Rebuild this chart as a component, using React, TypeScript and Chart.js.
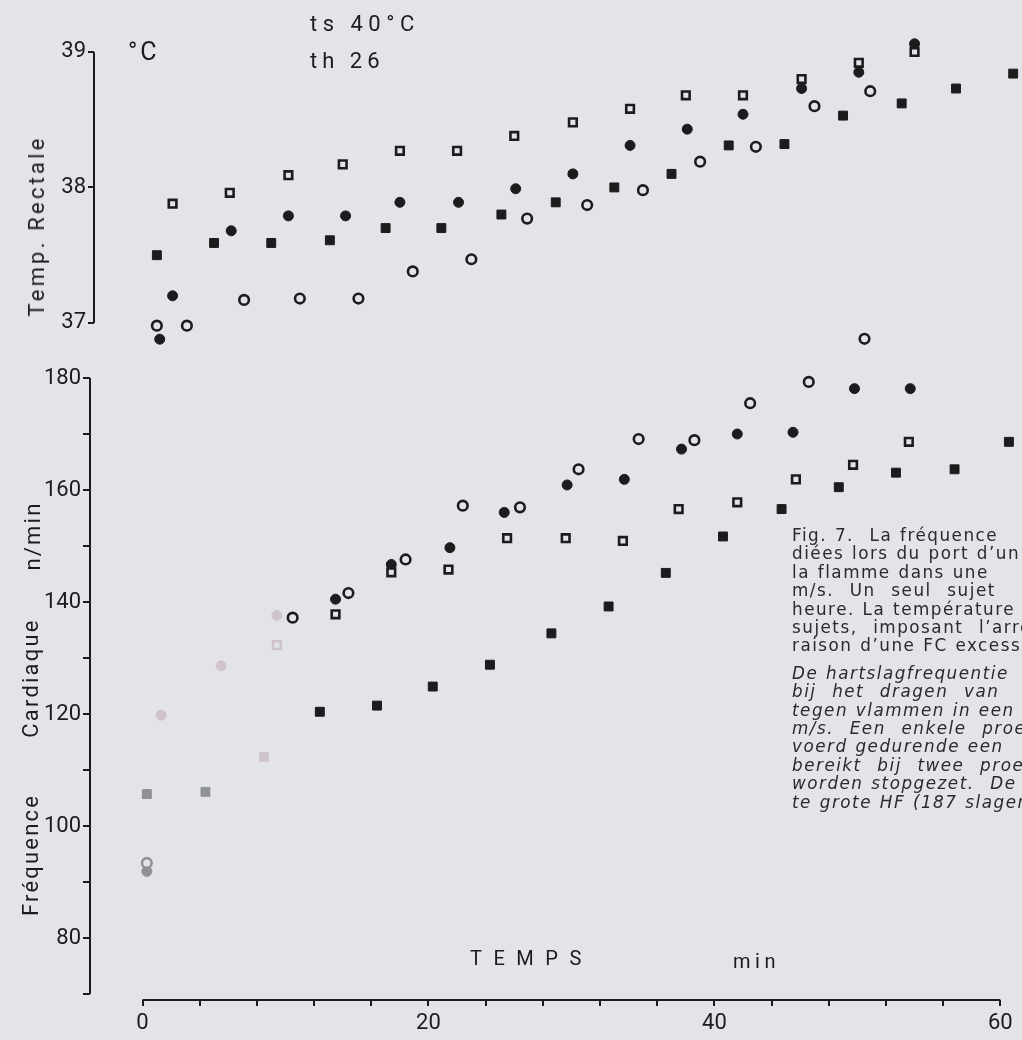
import React, { useEffect, useRef } from 'react';
import { Chart, registerables } from 'chart.js';

Chart.register(...registerables);

// ---------------- data (time in minutes) ----------------
// Temp. Rectale (°C)
const tempTimeOpenSquare = [2.1, 6.1, 10.2, 14.0, 18.0, 22.0, 26.0, 30.1, 34.1, 38.0, 42.0, 46.1, 50.1, 54.0];
const tempOpenSquare = [37.88, 37.96, 38.09, 38.17, 38.27, 38.27, 38.38, 38.48, 38.58, 38.68, 38.68, 38.8, 38.92, 39.0];
const tempTimeFilledSquare = [1.0, 5.0, 9.0, 13.1, 17.0, 20.9, 25.1, 28.9, 33.0, 37.0, 41.0, 44.9, 49.0, 53.1, 56.9, 60.9];
const tempFilledSquare = [37.5, 37.59, 37.59, 37.61, 37.7, 37.7, 37.8, 37.89, 38.0, 38.1, 38.31, 38.32, 38.53, 38.62, 38.73, 38.84];
const tempTimeOpenCircle = [1.0, 3.1, 7.1, 11.0, 15.1, 18.9, 23.0, 26.9, 31.1, 35.0, 39.0, 42.9, 47.0, 50.9];
const tempOpenCircle = [36.98, 36.98, 37.17, 37.18, 37.18, 37.38, 37.47, 37.77, 37.87, 37.98, 38.19, 38.3, 38.6, 38.71];
const tempTimeFilledCircle = [1.2, 2.1, 6.2, 10.2, 14.2, 18.0, 22.1, 26.1, 30.1, 34.1, 38.1, 42.0, 46.1, 50.1, 54.0];
const tempFilledCircle = [36.88, 37.2, 37.68, 37.79, 37.79, 37.89, 37.89, 37.99, 38.1, 38.31, 38.43, 38.54, 38.73, 38.85, 39.06];

// Fréquence Cardiaque (n/min)
const hrTimeOpenSquare = [9.4, 13.5, 17.4, 21.4, 25.5, 29.6, 33.6, 37.5, 41.6, 45.7, 49.7, 53.6];
const hrOpenSquare = [132.3, 137.8, 145.3, 145.8, 151.4, 151.4, 150.9, 156.6, 157.8, 161.9, 164.5, 168.6];
const hrTimeFilledSquare = [0.3, 4.4, 8.5, 12.4, 16.4, 20.3, 24.3, 28.6, 32.6, 36.6, 40.6, 44.7, 48.7, 52.7, 56.8, 60.6];
const hrFilledSquare = [105.7, 106.1, 112.3, 120.4, 121.5, 124.9, 128.8, 134.4, 139.2, 145.2, 151.7, 156.6, 160.5, 163.1, 163.7, 168.6];
const hrTimeOpenCircle = [0.3, 10.5, 14.4, 18.4, 22.4, 26.4, 30.5, 34.7, 38.6, 42.5, 46.6, 50.5];
const hrOpenCircle = [93.4, 137.2, 141.6, 147.6, 157.2, 156.9, 163.7, 169.1, 168.9, 175.5, 179.3, 187];
const hrTimeFilledCircle = [0.3, 1.3, 5.5, 9.4, 13.5, 17.4, 21.5, 25.3, 29.7, 33.7, 37.7, 41.6, 45.5, 49.8, 53.7];
const hrFilledCircle = [91.9, 119.8, 128.6, 137.6, 140.5, 146.7, 149.7, 156.0, 160.9, 161.9, 167.3, 170.0, 170.3, 178.1, 178.1];

// ticks
const timeTicks = [0, 4, 8, 12, 16, 20, 24, 28, 32, 36, 40, 44, 48, 52, 56, 60];
const timeLabels = [0, 20, 40, 60];
const tempTicks = [37, 38, 39];
const hrTicks = [70, 80, 90, 100, 110, 120, 130, 140, 150, 160, 170, 180];
const hrLabels = [80, 100, 120, 140, 160, 180];

const frCaption = [
  'Fig. 7.  La fréquence',
  'diées lors du port d’un',
  'la flamme dans une',
  'm/s.  Un  seul  sujet',
  'heure. La température',
  'sujets,  imposant  l’arrêt',
  'raison d’une FC excessive',
];
const nlCaption = [
  'De hartslagfrequentie',
  'bij  het  dragen  van',
  'tegen vlammen in een',
  'm/s.  Een  enkele  proef',
  'voerd gedurende een',
  'bereikt  bij  twee  proef',
  'worden stopgezet.  De',
  'te grote HF (187 slagen',
];

// ---------------- layout / style ----------------
const PAPER = '#e2e4e8';
const INK = '#1c1c1e';
const FADE1 = '#8f9196';
const FADE2 = '#d0c4ca';
const W = 1022;
const X0 = 143; // page px of t = 0
const SX = 14.42; // px per minute
const TICK_FONT = { family: 'Roboto, "DejaVu Sans", sans-serif', size: 22 };

const pts = (t: number[], v: number[]) => t.map((x, i) => ({ x, y: v[i] }));

// early heart-rate marks are faint in the print
const fadeColor = (c: any) => {
  const x = c.raw ? c.raw.x : 99;
  if (x < 1 || (x >= 4 && x < 5)) return FADE1;
  if (x < 10) return FADE2;
  return INK;
};

function marker(label: string, data: any[], kind: string, faded: boolean) {
  const open = kind === 'openSquare' || kind === 'openCircle';
  const square = kind === 'openSquare' || kind === 'filledSquare';
  const col = faded ? fadeColor : INK;
  return {
    label,
    data,
    showLine: false,
    clip: false,
    pointStyle: square ? 'rect' : 'circle',
    pointRadius: square ? (open ? 5.4 : 6.3) : open ? 4.8 : 5,
    pointBorderWidth: open ? 2.6 : 1,
    pointBorderColor: col,
    pointBackgroundColor: open ? PAPER : col,
  };
}

// axis lines drawn only over the tick span (the frame of the original figure)
function axisLinePlugin(yTicks: number[], xTicks: number[] | null) {
  return {
    id: 'axisLines',
    afterDraw(chart: any) {
      const { ctx, chartArea, scales } = chart;
      const x = scales.x;
      const y = scales.y;
      ctx.save();
      ctx.strokeStyle = INK;
      ctx.lineWidth = 2;
      ctx.beginPath();
      ctx.moveTo(chartArea.left, y.getPixelForValue(yTicks[0]));
      ctx.lineTo(chartArea.left, y.getPixelForValue(yTicks[yTicks.length - 1]));
      if (xTicks) {
        ctx.moveTo(x.getPixelForValue(xTicks[0]), chartArea.bottom);
        ctx.lineTo(x.getPixelForValue(xTicks[xTicks.length - 1]), chartArea.bottom);
      }
      ctx.stroke();
      ctx.restore();
    },
  };
}

function App() {
  const topRef = useRef<HTMLCanvasElement>(null);
  const botRef = useRef<HTMLCanvasElement>(null);

  useEffect(() => {
    const topLeft = 94;
    const botLeft = 90;
    const xMax = (W - X0) / SX;

    // top chart: 39 °C at page y 52, 37 °C at page y 324
    const pxPerDeg = (324 - 52) / 2;
    const tMin = 36.75;
    const tMax = 39.15;
    const topH = 372;

    const top = new Chart(topRef.current as HTMLCanvasElement, {
      type: 'scatter',
      data: {
        datasets: [
          marker('□', pts(tempTimeOpenSquare, tempOpenSquare), 'openSquare', false),
          marker('■', pts(tempTimeFilledSquare, tempFilledSquare), 'filledSquare', false),
          marker('○', pts(tempTimeOpenCircle, tempOpenCircle), 'openCircle', false),
          marker('●', pts(tempTimeFilledCircle, tempFilledCircle), 'filledCircle', false),
        ] as any,
      },
      options: {
        animation: false,
        responsive: false,
        devicePixelRatio: 1,
        layout: {
          padding: {
            top: 52 - (tMax - 39) * pxPerDeg,
            bottom: topH - (324 + (37 - tMin) * pxPerDeg),
            left: 0,
            right: 0,
          },
        },
        plugins: { legend: { display: false }, tooltip: { enabled: false } },
        scales: {
          x: { type: 'linear', display: false, min: (topLeft - X0) / SX, max: xMax },
          y: {
            type: 'linear',
            min: tMin,
            max: tMax,
            afterFit: (s: any) => { s.width = topLeft; },
            afterBuildTicks: (s: any) => { s.ticks = tempTicks.map((value) => ({ value })); },
            grid: { drawOnChartArea: false, drawTicks: true, tickLength: 6, color: INK, lineWidth: 2 },
            border: { display: false },
            ticks: { color: INK, font: TICK_FONT, padding: 2, callback: (v: any) => String(v) },
          },
        },
      } as any,
      plugins: [axisLinePlugin(tempTicks, null)],
    });

    // bottom chart: canvas page y 300..1040; 180 at page y 378, 70 at 994, x axis at 1000
    const botTop = 300;
    const pxPerBeat = (994 - 378) / 110;
    const hrMin = 70 - (1000 - 994) / pxPerBeat;
    const hrMax = 190;

    const bot = new Chart(botRef.current as HTMLCanvasElement, {
      type: 'scatter',
      data: {
        datasets: [
          marker('□', pts(hrTimeOpenSquare, hrOpenSquare), 'openSquare', true),
          marker('■', pts(hrTimeFilledSquare, hrFilledSquare), 'filledSquare', true),
          marker('○', pts(hrTimeOpenCircle, hrOpenCircle), 'openCircle', true),
          marker('●', pts(hrTimeFilledCircle, hrFilledCircle), 'filledCircle', true),
        ] as any,
      },
      options: {
        animation: false,
        responsive: false,
        devicePixelRatio: 1,
        layout: {
          padding: { top: 378 - (hrMax - 180) * pxPerBeat - botTop, bottom: 0, left: 0, right: 0 },
        },
        plugins: { legend: { display: false }, tooltip: { enabled: false } },
        scales: {
          x: {
            type: 'linear',
            min: (botLeft - X0) / SX,
            max: xMax,
            afterFit: (s: any) => { s.height = 40; },
            afterBuildTicks: (s: any) => { s.ticks = timeTicks.map((value) => ({ value })); },
            grid: { drawOnChartArea: false, drawTicks: true, tickLength: 6, color: INK, lineWidth: 2 },
            border: { display: false },
            ticks: {
              color: INK,
              font: TICK_FONT,
              padding: 4,
              maxRotation: 0,
              autoSkip: false,
              callback: (v: any) => (timeLabels.includes(v) ? String(v) : ''),
            },
          },
          y: {
            type: 'linear',
            min: hrMin,
            max: hrMax,
            afterFit: (s: any) => { s.width = botLeft; },
            afterBuildTicks: (s: any) => { s.ticks = hrTicks.map((value) => ({ value })); },
            grid: { drawOnChartArea: false, drawTicks: true, tickLength: 7, color: INK, lineWidth: 2 },
            border: { display: false },
            ticks: {
              color: INK,
              font: TICK_FONT,
              padding: 2,
              autoSkip: false,
              callback: (v: any) => (hrLabels.includes(v) ? String(v) : ''),
            },
          },
        },
      } as any,
      plugins: [axisLinePlugin(hrTicks, timeTicks)],
    });

    return () => {
      top.destroy();
      bot.destroy();
    };
  }, []);

  const txt = (extra: React.CSSProperties): React.CSSProperties => ({
    position: 'absolute',
    whiteSpace: 'pre',
    color: INK,
    lineHeight: 1,
    ...extra,
  });
  const rot = (cx: number, cy: number, size: number, spacing: number): React.CSSProperties =>
    txt({
      left: cx,
      top: cy,
      fontSize: size,
      letterSpacing: spacing,
      transform: 'translate(-50%, -50%) rotate(-90deg)',
    });

  return (
    <div
      style={{
        position: 'absolute',
        left: 0,
        top: 0,
        width: W,
        height: 1040,
        background: PAPER,
        overflow: 'hidden',
        fontFamily: 'Roboto, "DejaVu Sans", sans-serif',
      }}
    >
      <canvas ref={topRef} width={W} height={372} style={{ position: 'absolute', left: 0, top: 0 }} />
      <canvas ref={botRef} width={W} height={740} style={{ position: 'absolute', left: 0, top: 300 }} />

      <div style={rot(37, 226, 22, 3.2)}>Temp. Rectale</div>
      <div style={rot(31, 855, 22, 2.2)}>Fréquence</div>
      <div style={rot(31, 678, 22, 2.2)}>Cardiaque</div>
      <div style={rot(33, 536, 22, 2.2)}>n/min</div>

      <div style={txt({ left: 128, top: 39, fontSize: 25, letterSpacing: 3 })}>°C</div>
      <div style={txt({ left: 310, top: 13, fontSize: 22, letterSpacing: 5.5 })}>ts 40°C</div>
      <div style={txt({ left: 310, top: 50, fontSize: 22, letterSpacing: 5 })}>th 26</div>
      <div style={txt({ left: 470, top: 948, fontSize: 20, letterSpacing: 11.5 })}>TEMPS</div>
      <div style={txt({ left: 733, top: 951, fontSize: 20, letterSpacing: 4.5 })}>min</div>

      <div
        style={{
          position: 'absolute',
          left: 792,
          top: 526,
          width: 480,
          fontFamily: '"DejaVu Sans", "Noto Sans", sans-serif',
          fontSize: 16.8,
          letterSpacing: 1.5,
          wordSpacing: 1,
          lineHeight: '18.4px',
          color: '#2a2a2c',
          whiteSpace: 'pre',
        }}
      >
        {frCaption.map((l, i) => (
          <div key={'fr' + i}>{l}</div>
        ))}
        <div style={{ height: 9 }} />
        {nlCaption.map((l, i) => (
          <div key={'nl' + i} style={{ fontStyle: 'italic' }}>
            {l}
          </div>
        ))}
      </div>
    </div>
  );
}

export default App;
